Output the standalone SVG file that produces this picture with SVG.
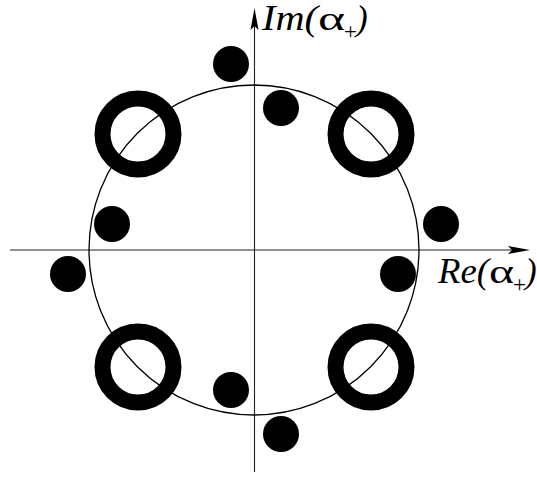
<svg xmlns="http://www.w3.org/2000/svg" width="537" height="477" viewBox="0 0 537 477">
<style>
.axis{stroke:#222;stroke-width:1.1;fill:none}
.unit{stroke:#000;stroke-width:1.3;fill:none}
.ring{stroke:#000;stroke-width:16;fill:none}
.dot{fill:#000}
.lbl{font-family:"Liberation Serif","Times New Roman",serif;font-size:35px;font-style:italic;fill:#000}
.gr{font-style:normal;font-size:34px}
.sub{font-style:normal;font-size:23px}
</style>
<rect width="537" height="477" fill="#fff"/>
<g id="connectors">
<line class="axis" x1="10" y1="250" x2="522" y2="250"/>
<path d="M530,250 L508,246 L512,250 L508,254 Z" fill="#000"/>
<line class="axis" x1="254.5" y1="472" x2="254.5" y2="16"/>
<path d="M254.5,8 L250.5,30 L254.5,26 L258.5,30 Z" fill="#000"/>
</g>
<g id="unit-circle"><circle class="unit" cx="254" cy="250" r="165"/></g>
<g id="ring-tl"><circle class="ring" cx="138" cy="134" r="35.5"/></g>
<g id="ring-tr"><circle class="ring" cx="371" cy="134" r="35.5"/></g>
<g id="ring-bl"><circle class="ring" cx="138" cy="367" r="35.5"/></g>
<g id="ring-br"><circle class="ring" cx="371" cy="367" r="35.5"/></g>
<g id="dot1"><circle class="dot" cx="231" cy="64" r="18"/></g>
<g id="dot2"><circle class="dot" cx="281" cy="108" r="18"/></g>
<g id="dot3"><circle class="dot" cx="112" cy="224" r="18"/></g>
<g id="dot4"><circle class="dot" cx="441" cy="224" r="18"/></g>
<g id="dot5"><circle class="dot" cx="68" cy="274" r="18"/></g>
<g id="dot6"><circle class="dot" cx="398" cy="274" r="18"/></g>
<g id="dot7"><circle class="dot" cx="231" cy="390" r="18"/></g>
<g id="dot8"><circle class="dot" cx="281" cy="434" r="18"/></g>
<g id="label-im">
<text class="lbl" x="262" y="30" textLength="56" lengthAdjust="spacingAndGlyphs">Im(</text>
<text class="lbl gr" x="318" y="30" textLength="27" lengthAdjust="spacingAndGlyphs">α</text>
<text class="lbl sub" x="344" y="39">+</text>
<text class="lbl" x="356" y="30">)</text>
</g>
<g id="label-re">
<text class="lbl" x="438" y="283" textLength="51" lengthAdjust="spacingAndGlyphs">Re(</text>
<text class="lbl gr" x="489" y="283" textLength="25" lengthAdjust="spacingAndGlyphs">α</text>
<text class="lbl sub" x="513" y="292">+</text>
<text class="lbl" x="525" y="283">)</text>
</g>
</svg>
